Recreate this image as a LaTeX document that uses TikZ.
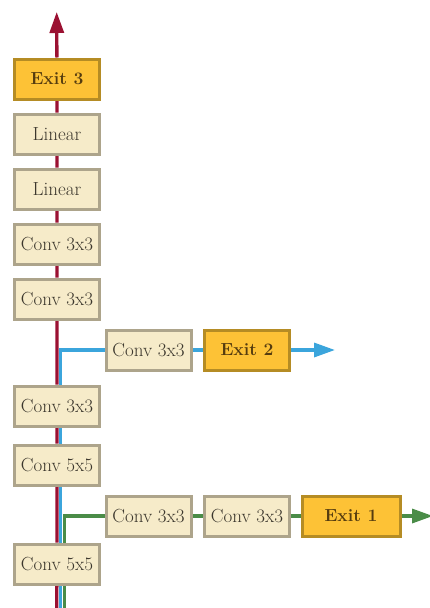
\documentclass[tikz,border=0pt]{standalone}
\usepackage{fontspec}
\setmainfont{Latin Modern Roman}
\usetikzlibrary{arrows.meta,backgrounds}
\definecolor{redline}{RGB}{155,17,50}
\definecolor{blueline}{RGB}{59,165,220}
\definecolor{greenline}{RGB}{74,140,72}
\definecolor{boxfill}{RGB}{246,235,201}
\definecolor{boxdraw}{RGB}{173,164,139}
\definecolor{exitfill}{RGB}{253,194,54}
\definecolor{exitdraw}{RGB}{181,140,36}
\definecolor{boxtext}{RGB}{60,55,45}
\definecolor{exittext}{RGB}{85,60,15}
\begin{document}
\begin{tikzpicture}[x=1pt,y=-1pt,
  layerbox/.style={draw=boxdraw,fill=boxfill,line width=3pt,minimum width=85pt,minimum height=40pt,inner sep=0pt,text=boxtext,font=\fontsize{19}{22}\selectfont},
  exitbox/.style={draw=exitdraw,fill=exitfill,line width=3pt,minimum width=85pt,minimum height=40pt,inner sep=0pt,text=exittext,font=\fontsize{17.5}{21}\selectfont\bfseries},
  flow/.style={line width=3.3pt},
  tip/.style={-{Triangle[length=21pt,width=14pt]}}
]
\useasboundingbox (0,0) rectangle (430,608);
% main column
\node[exitbox] (e3) at (57,79) {Exit 3};
\node[layerbox] (l1) at (57,134) {Linear};
\node[layerbox] (l2) at (57,189) {Linear};
\node[layerbox] (c1) at (57,244) {Conv 3x3};
\node[layerbox] (c2) at (57,299) {Conv 3x3};
\node[layerbox] (c3) at (57,406) {Conv 3x3};
\node[layerbox] (c4) at (57,465) {Conv 5x5};
\node[layerbox] (c5) at (57,564) {Conv 5x5};
% exit 2 branch
\node[layerbox] (b2c) at (148.5,350) {Conv 3x3};
\node[exitbox] (e2) at (247,350) {Exit 2};
% exit 1 branch
\node[layerbox] (b1c1) at (148.5,516) {Conv 3x3};
\node[layerbox] (b1c2) at (247,516) {Conv 3x3};
\node[exitbox,minimum width=98pt] (e1) at (351,516) {Exit 1};
% end points
\coordinate (rbot) at (56.7,610);
\coordinate (rtop) at (56.7,12);
\coordinate (bbot) at (60.6,610);
\coordinate (btip) at (335,350);
\coordinate (gbot) at (64.3,610);
\coordinate (gtip) at (433,516);
\begin{pgfonlayer}{background}
\draw[flow,greenline,tip] (gbot) |- (b1c1.west) -- (b1c1.east) -- (b1c2.west) -- (b1c2.east) -- (e1.west) -- (e1.east) -- (gtip);
\draw[flow,blueline,tip] (bbot) |- (b2c.west) -- (b2c.east) -- (e2.west) -- (e2.east) -- (btip);
\draw[flow,redline,tip] (rbot) -- (c5) -- (c4) -- (c3) -- (c2) -- (c1) -- (l2) -- (l1) -- (e3) -- (rtop);
\end{pgfonlayer}
\end{tikzpicture}
\end{document}
